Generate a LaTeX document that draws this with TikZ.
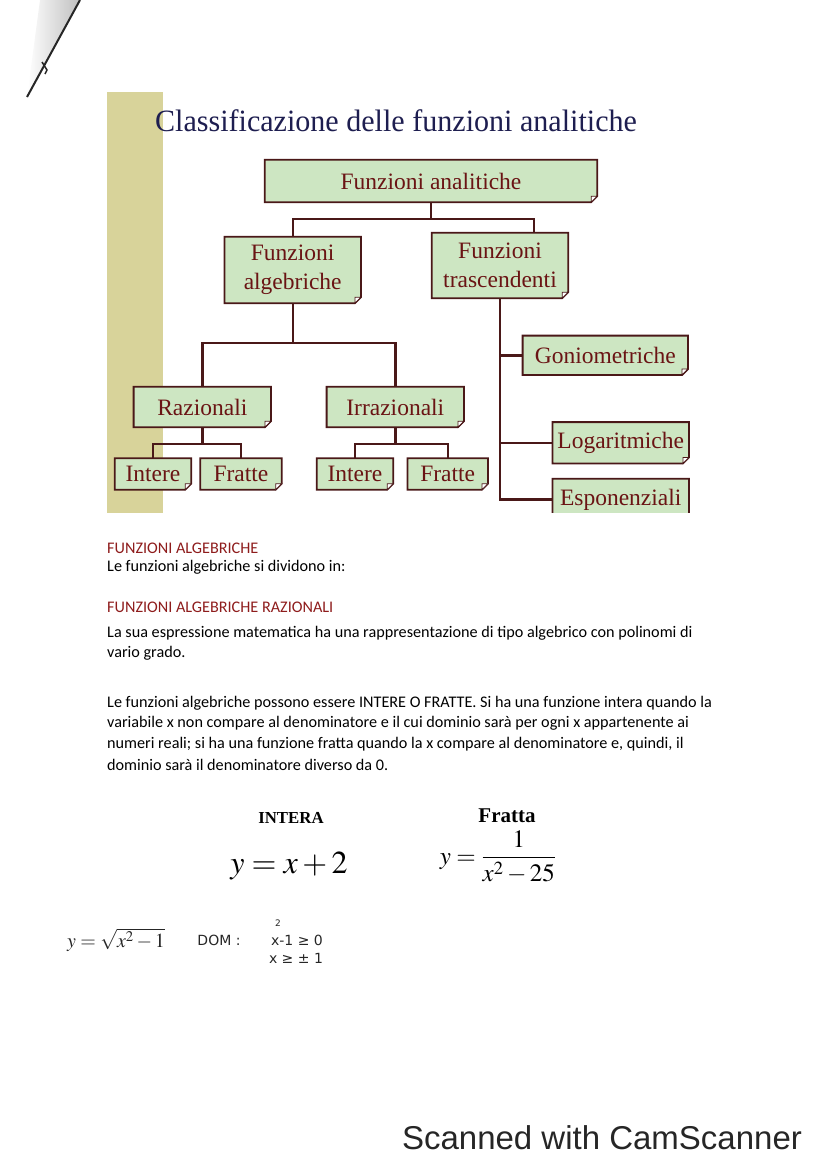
\documentclass[tikz,border=0pt]{standalone}
\usepackage{graphicx}
\usepackage{mathptmx}
\usepackage{fontspec}
\setmainfont{Liberation Serif}
\newfontfamily\calibri{Carlito}
\newfontfamily\arial{Liberation Sans}
\newfontfamily\penna{DejaVu Sans}
\usetikzlibrary{backgrounds}
\definecolor{verdino}{HTML}{CDE6C2}
\definecolor{bordo}{HTML}{4A1818}
\definecolor{vinaccia}{HTML}{6A1414}
\definecolor{notte}{HTML}{1E1E50}
\definecolor{kaki}{HTML}{D8D39A}
\definecolor{rubino}{HTML}{8E1C1C}

\tikzset{
  scheda/.style={inner sep=0pt,text=vinaccia,align=center,font=\fontsize{23.5}{29}\selectfont},
  ramo/.style={draw=bordo,line width=2.4pt},
  riga/.style={anchor=west,inner sep=0pt,text=black,font=\calibri\fontsize{16.2}{17}\selectfont},
  rubrica/.style={riga,text=rubino},
  penna/.style={text=black!85,font=\penna\fontsize{14}{14}\selectfont},
}

\begin{document}
\begin{tikzpicture}[x=1pt,y=-1pt]
\useasboundingbox (0,0) rectangle (828,1171);
% penna in alto a sinistra
\shade[left color=white,right color=black!25] (40,0) -- (80,0) -- (27,97) -- cycle;
\draw[line width=2pt,black!85] (80,0) -- (27,97);
\draw[line width=1.5pt,black!85] (42,62) -- (47,70) -- (45,74);

% schema
\node[text=notte,font=\fontsize{31}{31}\selectfont] (titolo) at (396,121) {\scalebox{.97}[1]{Classificazione delle funzioni analitiche}};
\node[scheda,minimum width=332pt,minimum height=42pt] (analitiche) at (431,181) {Funzioni analitiche};
\node[scheda,minimum width=136pt,minimum height=66pt] (algebriche) at (292.7,270) {Funzioni\\algebriche};
\node[scheda,minimum width=136pt,minimum height=65pt] (trascendenti) at (500,265.5) {Funzioni\\trascendenti};
\node[scheda,minimum width=137pt,minimum height=40pt] (razionali) at (202.3,407) {Razionali};
\node[scheda,minimum width=137pt,minimum height=40pt] (irrazionali) at (395.3,407) {Irrazionali};
\node[scheda,minimum width=76pt,minimum height=31pt] (intereR) at (153,474) {Intere};
\node[scheda,minimum width=81pt,minimum height=31pt] (fratteR) at (241,474) {Fratte};
\node[scheda,minimum width=76pt,minimum height=31pt] (intereI) at (355,474) {Intere};
\node[scheda,minimum width=80pt,minimum height=31pt] (fratteI) at (447.7,474) {Fratte};
\node[scheda,minimum width=165pt,minimum height=39pt] (gonio) at (605.3,355.3) {Goniometriche};
\node[scheda,minimum width=136pt,minimum height=41pt] (logar) at (620.7,442.8) {Logaritmiche};
\node[scheda,minimum width=136pt,minimum height=41pt] (espon) at (620.7,499.5) {Esponenziali};

\begin{scope}[on background layer]
\fill[kaki] (107,92) rectangle (163,513);
\foreach \n in {analitiche,algebriche,trascendenti,razionali,irrazionali,intereR,fratteR,intereI,fratteI,gonio,logar,espon}{
  \filldraw[fill=verdino,draw=bordo,line width=1.8pt] (\n.north west) -- (\n.north east) -- ([yshift=6pt]\n.south east) -- ([xshift=-6pt]\n.south east) -- (\n.south west) -- cycle;
  \filldraw[fill=white,draw=bordo,line width=.8pt] ([yshift=6pt]\n.south east) -- ([xshift=-6pt,yshift=6pt]\n.south east) -- ([xshift=-6pt]\n.south east) -- cycle;
}
\end{scope}

\draw[ramo] (analitiche.south) -- ++(0,17) coordinate (snodoA);
\draw[ramo] (algebriche.north) |- (snodoA) -| ([xshift=34pt]trascendenti.north);
\draw[ramo] (algebriche.south) -- ++(0,40) coordinate (snodoB);
\draw[ramo] (razionali.north) |- (snodoB) -| (irrazionali.north);
\draw[ramo] (razionali.south) -- ++(0,17) coordinate (snodoC);
\draw[ramo] (intereR.north) |- (snodoC) -| (fratteR.north);
\draw[ramo] (irrazionali.south) -- ++(0,17) coordinate (snodoD);
\draw[ramo] (intereI.north) |- (snodoD) -| (fratteI.north);
\draw[ramo] (trascendenti.south) |- (espon.west);
\draw[ramo] (trascendenti.south |- gonio.west) -- (gonio.west);
\draw[ramo] (trascendenti.south |- logar.west) -- (logar.west);
% l'immagine e' tagliata sotto
\fill[white] (540,513) rectangle (700,526);

% testo
\node[rubrica] (capo1) at (107,548) {FUNZIONI ALGEBRICHE};
\node[riga] (r1) at (107,567) {Le funzioni algebriche si dividono in:};
\node[rubrica] (capo2) at (107,607) {FUNZIONI ALGEBRICHE RAZIONALI};
\node[riga] (r2) at (107,633) {La sua espressione matematica ha una rappresentazione di tipo algebrico con polinomi di};
\node[riga] (r3) at (107,653) {vario grado.};
\node[riga] (r4) at (107,703) {Le funzioni algebriche possono essere INTERE O FRATTE. Si ha una funzione intera quando la};
\node[riga] (r5) at (107,723) {variabile x non compare al denominatore e il cui dominio sarà per ogni x appartenente ai};
\node[riga] (r6) at (107,744) {numeri reali; si ha una funzione fratta quando la x compare al denominatore e, quindi, il};
\node[riga] (r7) at (107,765) {dominio sarà il denominatore diverso da 0.};

% esempi
\node[font=\bfseries\fontsize{16.8}{16.8}\selectfont] (intera) at (291,818) {INTERA};
\node[font=\bfseries\fontsize{21}{21}\selectfont] (fratta) at (507,816) {Fratta};
\node[font=\fontsize{32}{32}\selectfont] (fintera) at (289,866) {$y=x+2$};
\node[font=\fontsize{25}{25}\selectfont] (ffratta) at (498,857) {$y=\displaystyle\frac{1}{x^2-25}$};

% appunti a mano
\node[penna,font=\fontsize{20}{20}\selectfont] (radice) at (116,940) {$y=\sqrt{x^2-1}$};
\node[penna] (dom) at (219,940) {DOM :};
\node[penna,font=\penna\fontsize{9}{9}\selectfont] (quadro) at (278,923) {2};
\node[penna] (dis1) at (297,940) {x-1 ≥ 0};
\node[penna] (dis2) at (296,958) {x ≥ ± 1};

\node[text=black!85,font=\arial\fontsize{33}{33}\selectfont] (firma) at (602,1138) {Scanned with CamScanner};
\end{tikzpicture}
\end{document}
